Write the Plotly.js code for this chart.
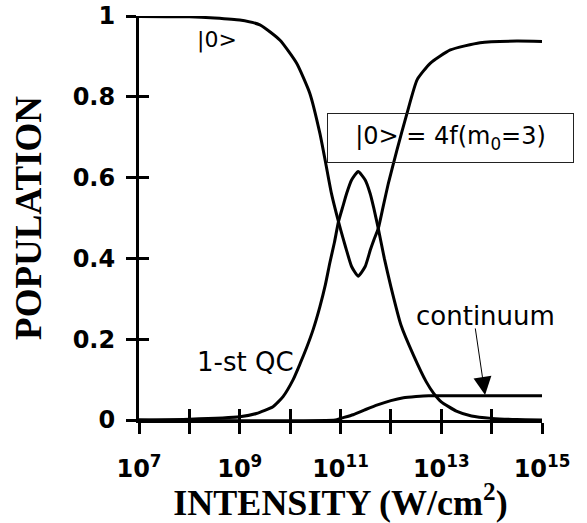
<!DOCTYPE html>
<html>
<head>
<meta charset="utf-8">
<script src="https://cdn.plot.ly/plotly-3.0.1.min.js"></script>
<style>html,body{margin:0;padding:0;background:#fff;}</style>
</head>
<body>
<div id="chart" style="width:587px;height:523px;"></div>
<script>
// log10 of intensity (W/cm^2) and populations
const groundLogI = [7.0, 8.0, 8.5, 9.0, 9.4, 9.8, 10.13, 10.39, 10.59, 10.7, 10.82, 10.96, 11.05, 11.12, 11.22, 11.35, 11.49, 11.59, 11.66, 11.75, 11.85, 11.95, 12.12, 12.32, 12.52, 12.78, 13.18, 13.77, 14.5, 15.0];
const groundPop  = [0.999, 0.998, 0.995, 0.99, 0.978, 0.94, 0.883, 0.809, 0.71, 0.64, 0.561, 0.491, 0.45, 0.42, 0.38, 0.356, 0.38, 0.42, 0.445, 0.474, 0.53, 0.586, 0.668, 0.759, 0.842, 0.883, 0.916, 0.934, 0.938, 0.937];

const qcLogI = [7.0, 8.0, 9.0, 9.33, 9.66, 9.86, 10.06, 10.2, 10.33, 10.46, 10.59, 10.7, 10.79, 10.88, 10.96, 11.05, 11.12, 11.22, 11.35, 11.49, 11.59, 11.66, 11.75, 11.87, 12.0, 12.2, 12.45, 12.7, 12.85, 13.0, 13.3, 13.6, 14.0, 14.5, 15.0];
const qcPop  = [0.0, 0.002, 0.008, 0.016, 0.033, 0.058, 0.1, 0.14, 0.18, 0.225, 0.28, 0.335, 0.39, 0.44, 0.491, 0.53, 0.56, 0.594, 0.615, 0.594, 0.56, 0.525, 0.474, 0.4, 0.33, 0.235, 0.16, 0.095, 0.066, 0.045, 0.022, 0.01, 0.004, 0.001, 0.0];

const contLogI = [7.0, 10.9, 11.0, 11.25, 11.5, 11.75, 12.0, 12.25, 12.5, 12.75, 13.0, 15.0];
const contPop  = [0.0, 0.0, 0.004, 0.013, 0.026, 0.038, 0.048, 0.055, 0.058, 0.06, 0.06, 0.06];

const xTickExp = [7, 8, 9, 10, 11, 12, 13, 14, 15];
const xTickText = ['10<sup>7</sup>', '', '10<sup>9</sup>', '', '10<sup>11</sup>', '', '10<sup>13</sup>', '', '10<sup>15</sup>'];
const yTickVals = [0, 0.2, 0.4, 0.6, 0.8, 1];
const yTickText = ['0', '0.2', '0.4', '0.6', '0.8', '1'];

const toI = a => a.map(e => Math.pow(10, e));
const xTickVals = toI(xTickExp);

const lineStyle = {color: '#000', width: 3, shape: 'spline', smoothing: 0.5};

const traces = [
  {x: toI(groundLogI), y: groundPop, mode: 'lines', line: lineStyle, name: '|0>', xaxis: 'x', yaxis: 'y'},
  {x: toI(qcLogI), y: qcPop, mode: 'lines', line: lineStyle, name: '1-st QC', xaxis: 'x', yaxis: 'y'},
  {x: toI(contLogI), y: contPop, mode: 'lines', line: lineStyle, name: 'continuum', xaxis: 'x2', yaxis: 'y2'}
];

const tickFont = {family: 'DejaVu Sans', size: 24, color: '#000', weight: 'bold'};
const titleFont = {family: 'Liberation Serif', size: 36, color: '#000', weight: 'bold'};
const labelFont = s => ({family: 'DejaVu Sans', size: s, color: '#000'});

const layout = {
  width: 587, height: 523,
  margin: {l: 139, r: 45, t: 16, b: 103, pad: 0},
  paper_bgcolor: '#fff', plot_bgcolor: '#fff',
  showlegend: false,
  xaxis: {
    type: 'log', range: [7, 15], tickmode: 'array', tickvals: xTickVals, ticktext: xTickText,
    ticks: 'outside', ticklen: 11, tickwidth: 3, tickcolor: '#000',
    showline: true, linewidth: 3, linecolor: '#000', showgrid: false, zeroline: false,
    tickfont: tickFont, ticklabelstandoff: 14,
    title: {text: 'INTENSITY (W/cm<sup>2</sup>)', font: titleFont, standoff: 0},
    fixedrange: true
  },
  yaxis: {
    range: [0, 1], tickmode: 'array', tickvals: yTickVals, ticktext: yTickText,
    ticks: 'outside', ticklen: 10, tickwidth: 3, tickcolor: '#000',
    showline: true, linewidth: 3, linecolor: '#000', showgrid: false, zeroline: false,
    tickfont: tickFont, ticklabelstandoff: 6,
    title: {text: 'POPULATION', font: {family: 'Liberation Serif', size: 37, color: '#000', weight: 'bold'}, standoff: 20},
    fixedrange: true
  },
  xaxis2: {
    type: 'log', range: [7, 15], overlaying: 'x', anchor: 'y2', side: 'bottom',
    tickmode: 'array', tickvals: xTickVals, ticks: 'inside', ticklen: 11, tickwidth: 3, tickcolor: '#000',
    showticklabels: false, showline: false, showgrid: false, zeroline: false, fixedrange: true
  },
  yaxis2: {
    range: [0, 1], overlaying: 'y', anchor: 'x2', side: 'left',
    tickmode: 'array', tickvals: yTickVals, ticks: 'inside', ticklen: 10, tickwidth: 3, tickcolor: '#000',
    showticklabels: false, showline: false, showgrid: false, zeroline: false, fixedrange: true
  },
  annotations: [
    {xref: 'x', yref: 'y', x: 8.107, y: 0.94, text: '|0&gt;', showarrow: false,
     xanchor: 'left', yanchor: 'middle', font: labelFont(22)},
    {xref: 'x', yref: 'y', x: 8.107, y: 0.144, text: '1-st QC', showarrow: false,
     xanchor: 'left', yanchor: 'middle', font: labelFont(26)},
    {xref: 'x', yref: 'y', x: 13.873, y: 0.258, text: 'continuum', showarrow: false,
     xanchor: 'center', yanchor: 'middle', font: labelFont(26)},
    {xref: 'x', yref: 'y', x: 13.87, y: 0.062, text: '', showarrow: true,
     ax: -10, ay: -68, arrowhead: 2, arrowsize: 3.6, arrowwidth: 1, arrowcolor: '#000'},
    {xref: 'x', yref: 'y', x: 10.73, y: 0.698, text: '|0&gt; = 4f(m<sub>0</sub>=3)', showarrow: false,
     xanchor: 'left', yanchor: 'middle', width: 243, height: 46, align: 'center', xshift: 0,
     bordercolor: '#222', borderwidth: 1, borderpad: 1, bgcolor: 'rgba(0,0,0,0)', font: labelFont(24)}
  ]
};

Plotly.newPlot('chart', traces, layout, {displayModeBar: false, staticPlot: true});
</script>
</body>
</html>
